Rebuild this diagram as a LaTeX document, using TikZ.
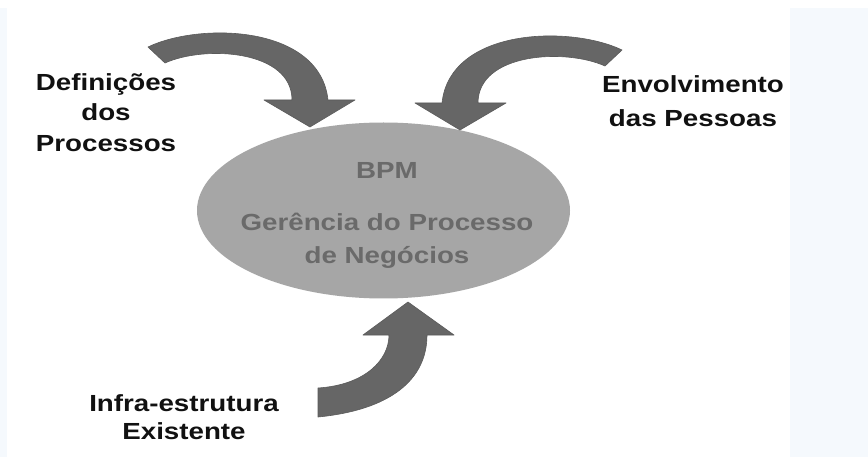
\documentclass[tikz,border=0pt]{standalone}
\usepackage{fontspec}
\setmainfont{Liberation Sans}[FakeStretch=1.19]
\usetikzlibrary{shapes.geometric}
\definecolor{panel}{HTML}{F5F9FD}
\definecolor{arrowfill}{HTML}{666666}
\definecolor{arrowedge}{HTML}{5A5A5A}
\definecolor{ellfill}{HTML}{A6A6A6}
\definecolor{elltext}{HTML}{6A6A6A}
\definecolor{labtext}{HTML}{111111}
\tikzset{
  blockarrow/.style={fill=arrowfill, draw=arrowedge, line width=0.6pt, line join=round},
  sidelabel/.style={align=center, inner sep=0pt, text=labtext},
  bpmshape/.style={ellipse, fill=ellfill, inner sep=0pt, minimum width=373pt, minimum height=176pt},
  bpmlabel/.style={align=center, inner sep=0pt, text=elltext}
}
\begin{document}
\begin{tikzpicture}[x=1pt,y=-1pt]
\useasboundingbox (0,0) rectangle (868,457);
\fill[white] (0,0) rectangle (868,457);
% faint side panels
\fill[panel] (0,8) rectangle (7,457);
\fill[panel] (790,8) rectangle (868,457);

% central ellipse
\node[bpmshape] (bpm) at (383.5,210.5) {};
\node[bpmlabel, font=\bfseries\fontsize{23.3}{33}\selectfont] (bpmtext) at (387,215)
  {BPM\\[19pt]Gerência do Processo\\de Negócios};

% top-left curved arrow
\path[blockarrow] (148,47) .. controls (200,22) and (320,25) .. (328,100)
  -- (355,100) -- (310,127) -- (264,100) -- (292,100)
  .. controls (292,50) and (205,45) .. (165,63) -- cycle;

% top-right curved arrow (mirror image)
\begin{scope}[shift={(770,3)}, xscale=-1]
\path[blockarrow] (148,47) .. controls (200,22) and (320,25) .. (328,100)
  -- (355,100) -- (310,127) -- (264,100) -- (292,100)
  .. controls (292,50) and (205,45) .. (165,63) -- cycle;
\end{scope}

% bottom curved arrow
\path[blockarrow] (318,417) .. controls (390,410) and (427,380) .. (427,335)
  -- (454,335) -- (408,302) -- (363,335) -- (389,335)
  .. controls (389,360) and (365,385) .. (318,388) -- cycle;

% side labels
\node[sidelabel, font=\bfseries\fontsize{23.3}{30.8}\selectfont] (defs) at (106,112.5)
  {Definições\\dos\\Processos};
\node[sidelabel, font=\bfseries\fontsize{23.3}{34.4}\selectfont] (envol) at (693,101)
  {Envolvimento\\das Pessoas};
\node[sidelabel, font=\bfseries\fontsize{23.3}{28}\selectfont] (infra) at (184,417)
  {Infra-estrutura\\Existente};
\end{tikzpicture}
\end{document}
